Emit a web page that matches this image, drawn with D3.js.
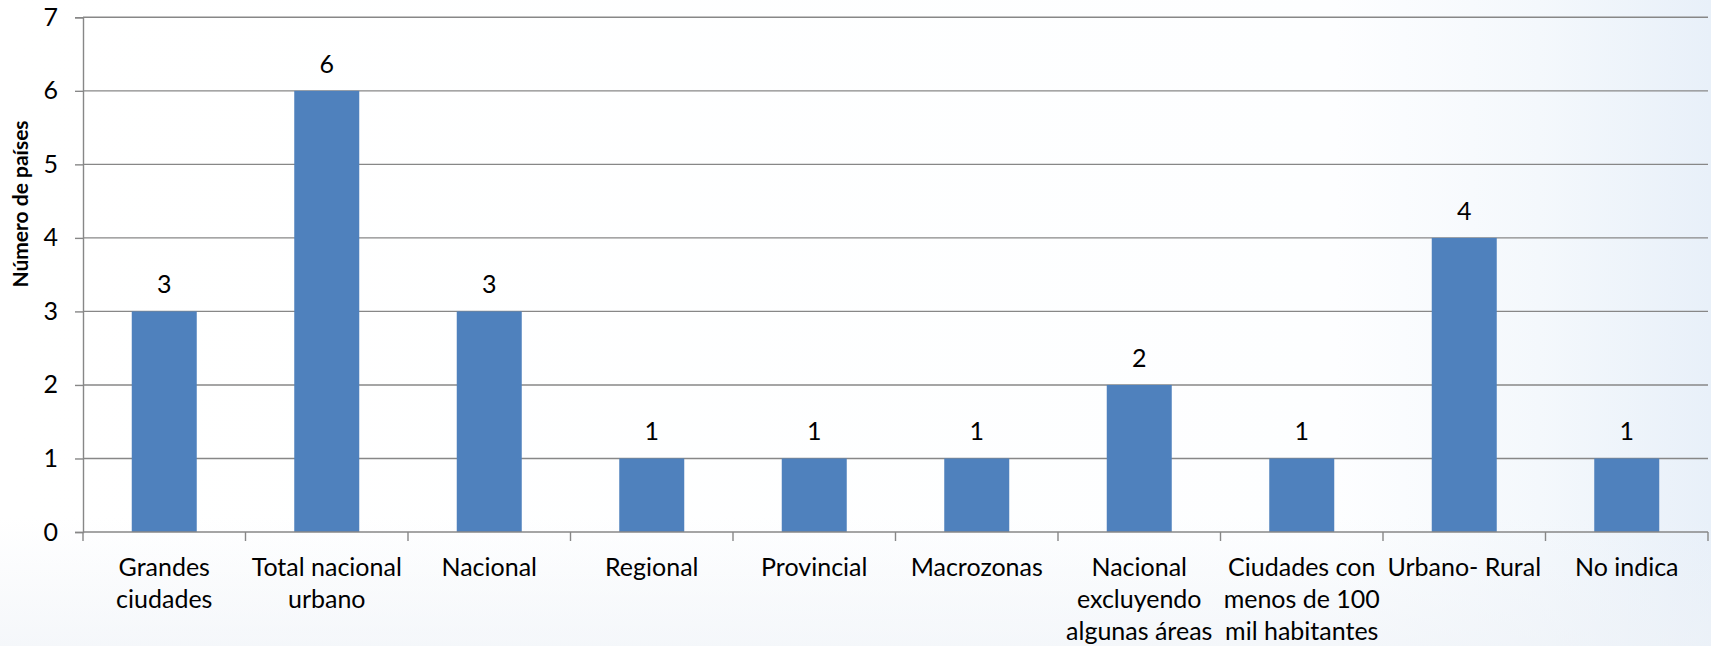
<!DOCTYPE html>
<html>
<head>
<meta charset="utf-8">
<script src="https://cdn.jsdelivr.net/npm/d3@7"></script>
<style>
  html, body { margin: 0; padding: 0; background: #ffffff; }
  svg { display: block; }
  text { font-family: Lato, "Open Sans", sans-serif; fill: #000; }
</style>
</head>
<body>
<svg id="chart" width="1711" height="646"></svg>
<script>
const categories = [
  "Grandes\nciudades",
  "Total nacional\nurbano",
  "Nacional",
  "Regional",
  "Provincial",
  "Macrozonas",
  "Nacional\nexcluyendo\nalgunas áreas",
  "Ciudades con\nmenos de 100\nmil habitantes",
  "Urbano- Rural",
  "No indica"
];
const values = [3, 6, 3, 1, 1, 1, 2, 1, 4, 1];
const yTicks = [0, 1, 2, 3, 4, 5, 6, 7];
const yTitle = "Número de países";

const W = 1711, H = 646;
const plotLeft = 83, plotRight = 1708, plotTop = 17.3, plotBottom = 532;
const fontSize = 25;

const svg = d3.select("#chart");

// background
const defs = svg.append("defs");
const g1 = defs.append("linearGradient").attr("id", "bgH").attr("x1", 0).attr("x2", 1).attr("y1", 0).attr("y2", 0);
g1.append("stop").attr("offset", "0").attr("stop-color", "#ffffff");
g1.append("stop").attr("offset", "0.78").attr("stop-color", "#fdfeff");
g1.append("stop").attr("offset", "0.9").attr("stop-color", "#f4f8fc");
g1.append("stop").attr("offset", "1").attr("stop-color", "#e8f0f9");
svg.append("rect").attr("width", W).attr("height", H).attr("fill", "url(#bgH)");
const g2 = defs.append("linearGradient").attr("id", "bgV").attr("x1", 0).attr("x2", 0).attr("y1", 0).attr("y2", 1);
g2.append("stop").attr("offset", "0.8").attr("stop-color", "#eef2f7").attr("stop-opacity", 0);
g2.append("stop").attr("offset", "1").attr("stop-color", "#eef2f7").attr("stop-opacity", 0.6);
svg.append("rect").attr("width", W).attr("height", H).attr("fill", "url(#bgV)");

const x = d3.scaleBand().domain(categories).range([plotLeft, plotRight]).paddingInner(0.6).paddingOuter(0.3);
const y = d3.scaleLinear().domain([0, 7]).range([plotBottom, plotTop]);
const step = x.step();

const gridColor = "#878787";

// gridlines
svg.append("g").selectAll("line").data(yTicks.filter(d => d > 0)).join("line")
  .attr("x1", plotLeft).attr("x2", plotRight)
  .attr("y1", d => y(d)).attr("y2", d => y(d))
  .attr("stroke", gridColor).attr("stroke-width", 1.4);

// y axis
const yAxis = d3.axisLeft(y).tickValues(yTicks).tickSize(8).tickPadding(17).tickFormat(d3.format("d"));
const yg = svg.append("g").attr("transform", `translate(${plotLeft},0)`).call(yAxis);
yg.select(".domain").attr("stroke", gridColor).attr("stroke-width", 1.4);
yg.selectAll(".tick line").attr("stroke", gridColor).attr("stroke-width", 1.4);
yg.selectAll(".tick text").attr("font-size", fontSize).attr("font-family", "Lato, sans-serif").attr("fill", "#000");

// bars
svg.append("g").selectAll("rect").data(values).join("rect")
  .attr("x", (d, i) => x(categories[i]))
  .attr("width", x.bandwidth())
  .attr("y", d => y(d))
  .attr("height", d => y(0) - y(d))
  .attr("fill", "#4f81bd");

// value labels
svg.append("g").selectAll("text").data(values).join("text")
  .attr("x", (d, i) => x(categories[i]) + x.bandwidth() / 2)
  .attr("y", d => y(d) - 18)
  .attr("text-anchor", "middle")
  .attr("font-size", fontSize)
  .text(d => d);

// x axis line and ticks
svg.append("line").attr("x1", plotLeft).attr("x2", plotRight).attr("y1", plotBottom).attr("y2", plotBottom)
  .attr("stroke", gridColor).attr("stroke-width", 1.4);
const boundaries = d3.range(categories.length + 1).map(i => plotLeft + i * step);
svg.append("g").selectAll("line").data(boundaries).join("line")
  .attr("x1", d => d).attr("x2", d => d)
  .attr("y1", plotBottom).attr("y2", plotBottom + 9)
  .attr("stroke", gridColor).attr("stroke-width", 1.4);

// category labels
const lab = svg.append("g").selectAll("text").data(categories).join("text")
  .attr("x", d => x(d) + x.bandwidth() / 2)
  .attr("y", 576)
  .attr("text-anchor", "middle")
  .attr("font-size", fontSize);
lab.each(function(d) {
  const t = d3.select(this);
  d.split("\n").forEach((line, k) => {
    t.append("tspan").attr("x", x(d) + x.bandwidth() / 2).attr("dy", k === 0 ? 0 : 32).text(line);
  });
});

// y title
svg.append("text")
  .attr("transform", `translate(28,204) rotate(-90)`)
  .attr("text-anchor", "middle")
  .attr("font-size", 21)
  .attr("font-weight", "bold")
  .text(yTitle);
</script>
</body>
</html>
